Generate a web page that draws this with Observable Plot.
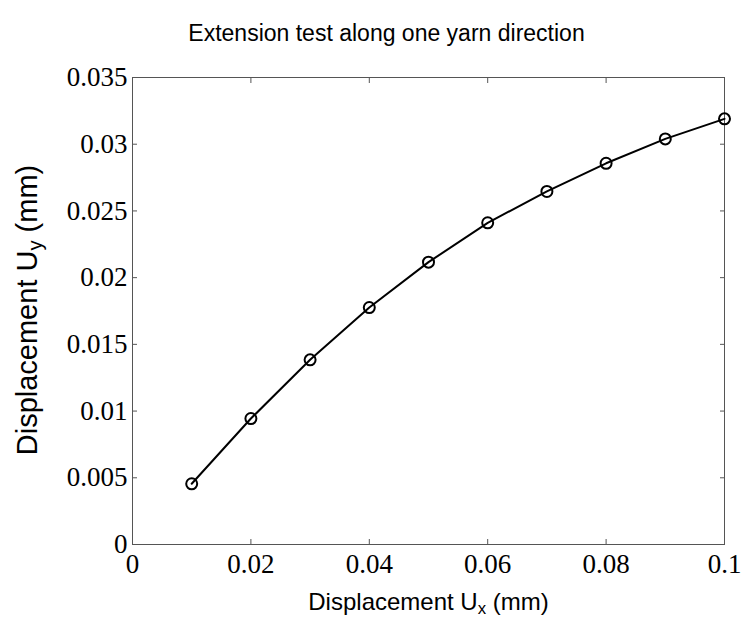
<!DOCTYPE html>
<html>
<head>
<meta charset="utf-8">
<script src="https://cdn.jsdelivr.net/npm/d3@7"></script>
<script src="https://cdn.jsdelivr.net/npm/@observablehq/plot@0.6"></script>
<style>
  html, body { margin: 0; padding: 0; background: #fff; }
  #chart svg { display: block; }
</style>
</head>
<body>
<div id="chart"></div>
<script>
const ux = [0.01, 0.02, 0.03, 0.04, 0.05, 0.06, 0.07, 0.08, 0.09, 0.1];
const uy = [0.00455, 0.00944, 0.01384, 0.01776, 0.02116, 0.02411, 0.02646, 0.02857, 0.0304, 0.0319];
const xTicks = [0, 0.02, 0.04, 0.06, 0.08, 0.1];
const yTicks = [0, 0.005, 0.01, 0.015, 0.02, 0.025, 0.03, 0.035];
const titleText = "Extension test along one yarn direction";
const xLabel = ["Displacement U", "x", " (mm)"];
const yLabel = ["Displacement U", "y", " (mm)"];

const data = ux.map((x, i) => ({x, y: uy[i]}));
const serif = "'Liberation Serif', 'Times New Roman', serif";
const sans = "'Liberation Sans', Arial, sans-serif";
const fmt = d => String(d);

const plot = Plot.plot({
  width: 741,
  height: 623,
  marginLeft: 132,
  marginRight: 17,
  marginTop: 77,
  marginBottom: 79,
  style: {background: "#fff", color: "#000"},
  x: {domain: [0, 0.1]},
  y: {domain: [0, 0.035]},
  marks: [
    Plot.frame({stroke: "#555", strokeWidth: 1}),
    // inward ticks on all four sides
    Plot.axisX(xTicks, {anchor: "bottom", tickSize: -5, tickFormat: () => "", stroke: "#555", label: null}),
    Plot.axisX(xTicks, {anchor: "top", tickSize: -5, tickFormat: () => "", stroke: "#555", label: null}),
    Plot.axisY(yTicks, {anchor: "left", tickSize: -5, tickFormat: () => "", stroke: "#555", label: null}),
    Plot.axisY(yTicks, {anchor: "right", tickSize: -5, tickFormat: () => "", stroke: "#555", label: null}),
    // tick labels
    Plot.axisX(xTicks, {anchor: "bottom", tickSize: 0, tickPadding: 9, tickFormat: fmt, fontSize: 27, fontFamily: serif, fill: "#000", label: null}),
    Plot.axisY(yTicks, {anchor: "left", tickSize: 0, tickPadding: 5, tickFormat: fmt, fontSize: 27, fontFamily: serif, fill: "#000", label: null}),
    // data
    Plot.line(data, {x: "x", y: "y", stroke: "#000", strokeWidth: 2}),
    Plot.dot(data, {x: "x", y: "y", r: 5.5, stroke: "#000", strokeWidth: 2, fill: "none"}),
    // title and axis labels
    Plot.text([titleText], {frameAnchor: "top", text: d => d, textAnchor: "middle", lineAnchor: "middle", dx: -42, dy: -44, fontSize: 23, fontFamily: sans, fill: "#000", className: "ttl"}),
    Plot.text([xLabel.join("")], {frameAnchor: "bottom", text: d => d, textAnchor: "middle", lineAnchor: "middle", dx: 0, dy: 58, fontSize: 24, fontFamily: sans, fill: "#000", className: "xlab"}),
    Plot.text([yLabel.join("")], {frameAnchor: "left", text: d => d, textAnchor: "middle", lineAnchor: "middle", rotate: -90, dx: -104.5, dy: -1, fontSize: 29, fontFamily: sans, fill: "#000", className: "ylab"})
  ]
});

function subscript(cls, parts) {
  const t = d3.select(plot).select(`g.${cls} text`);
  t.text(null);
  t.append("tspan").text(parts[0]);
  t.append("tspan").attr("dy", "0.25em").attr("font-size", "0.7em").text(parts[1]);
  t.append("tspan").attr("dy", "-0.175em").text(parts[2]);
}
subscript("xlab", xLabel);
subscript("ylab", yLabel);

document.getElementById("chart").appendChild(plot);
</script>
</body>
</html>
